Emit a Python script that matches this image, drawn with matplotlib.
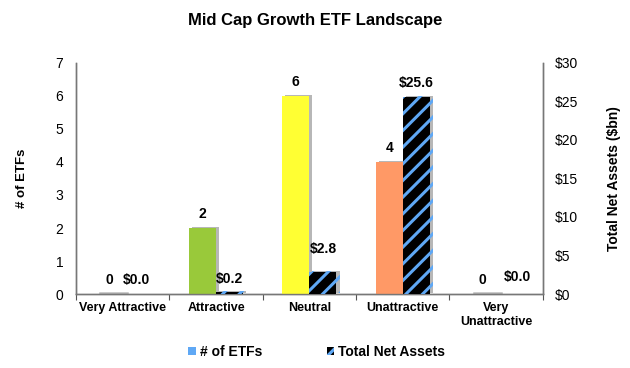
import matplotlib
matplotlib.use("Agg")
import matplotlib.pyplot as plt
import matplotlib.patheffects as pe
from matplotlib.patches import Patch
import numpy as np

plt.rcParams['font.family'] = ['Liberation Sans', 'DejaVu Sans']
plt.rcParams['hatch.linewidth'] = 2.2

categories = ["Very Attractive", "Attractive", "Neutral", "Unattractive", "Very\nUnattractive"]
num_etfs = [0, 2, 6, 4, 0]
net_assets = [0.0, 0.2, 2.8, 25.6, 0.0]
etf_colors = ["#2E8B2E", "#99C93A", "#FFFF33", "#FF9966", "#E03030"]
left_ticks = [0, 1, 2, 3, 4, 5, 6, 7]
right_ticks = [0, 5, 10, 15, 20, 25, 30]

fig = plt.figure(figsize=(6.3, 3.68), dpi=100)
ax = fig.add_axes([0.1206, 0.201, 0.741, 0.628])
ax2 = ax.twinx()

x = np.arange(len(categories))
w = 0.29
shadow = [pe.SimplePatchShadow(offset=(2.2, 0.8), shadow_rgbFace='#888888', alpha=0.6), pe.Normal()]

b1 = ax.bar(x - w/2, num_etfs, width=w, color=etf_colors, zorder=3)
for b in b1:
    b.set_path_effects(shadow)
b2 = ax2.bar(x + w/2, net_assets, width=w, color='black', edgecolor='#5FA8F5',
             hatch='//', linewidth=0, zorder=3)
for b in b2:
    b.set_path_effects(shadow)
# thin gray line for zero values
for i, v in enumerate(num_etfs):
    if v == 0:
        ax.plot([x[i] - w + 0.05, x[i] + 0.05], [0.04, 0.04], color='#bbbbbb', lw=1.8, zorder=2)

ax.set_ylim(0, 7)
ax2.set_ylim(0, 30)
ax.set_xlim(-0.5, 4.5)
ax.set_yticks(left_ticks)
ax2.set_yticks(right_ticks)
ax2.set_yticklabels([f"${t}" for t in right_ticks])
ax.set_xticks(np.arange(-0.5, 5, 1))
ax.set_xticklabels([])
ax.set_xticks(x, minor=True)
ax.set_xticklabels(categories, minor=True, fontweight='bold', fontsize=9)
ax.tick_params(axis='x', which='minor', length=0, pad=6)
ax.tick_params(axis='x', which='major', length=4, direction='out', color='#555555')
ax.tick_params(axis='y', length=0, pad=9, labelsize=10)
ax2.tick_params(axis='y', length=0, pad=9, labelsize=10)

for a in (ax, ax2):
    a.spines['top'].set_visible(False)
    for s in ('left', 'right', 'bottom'):
        a.spines[s].set_color('#777777')
        a.spines[s].set_linewidth(1)

ax.set_ylabel("# of ETFs", fontweight='bold', fontsize=9.5)
ax2.set_ylabel("Total Net Assets ($bn)", fontweight='bold', fontsize=10)
ax.yaxis.set_label_coords((22 - 76) / 467, 0.5)
ax2.yaxis.set_label_coords((614 - 76) / 467, 0.5)
ax.yaxis.label.set_va('center')
ax2.yaxis.label.set_va('center')

for i, v in enumerate(num_etfs):
    ax.annotate(f"{v}", (x[i] - w/2, v), xytext=(0, 5), textcoords='offset points',
                ha='center', va='bottom', fontweight='bold', fontsize=10)
for i, v in enumerate(net_assets):
    off = 11.5 if 1 < v < 5 else (7 if i == 4 else 5)
    dx = 0.08 if i == 4 else 0
    ax2.annotate(f"${v:.1f}", (x[i] + w/2 + dx, v), xytext=(0, off),
                 textcoords='offset points', ha='center', va='bottom', fontweight='bold', fontsize=10)

fig.text(0.5, 0.943, "Mid Cap Growth ETF Landscape", fontweight='bold', fontsize=12,
         ha='center', va='center')

handles = [Patch(facecolor='#5FA8F5', edgecolor='none'),
           Patch(facecolor='black', edgecolor='#5FA8F5', hatch='//', linewidth=0)]
fig.legend(handles, ["# of ETFs", "Total Net Assets"], loc='center', bbox_to_anchor=(0.503, 0.043),
           ncol=2, frameon=False, handlelength=0.55, handleheight=0.55, handletextpad=0.3,
           columnspacing=4.6, prop={'weight': 'bold', 'size': 10})

fig.savefig("out.png", dpi=100)
